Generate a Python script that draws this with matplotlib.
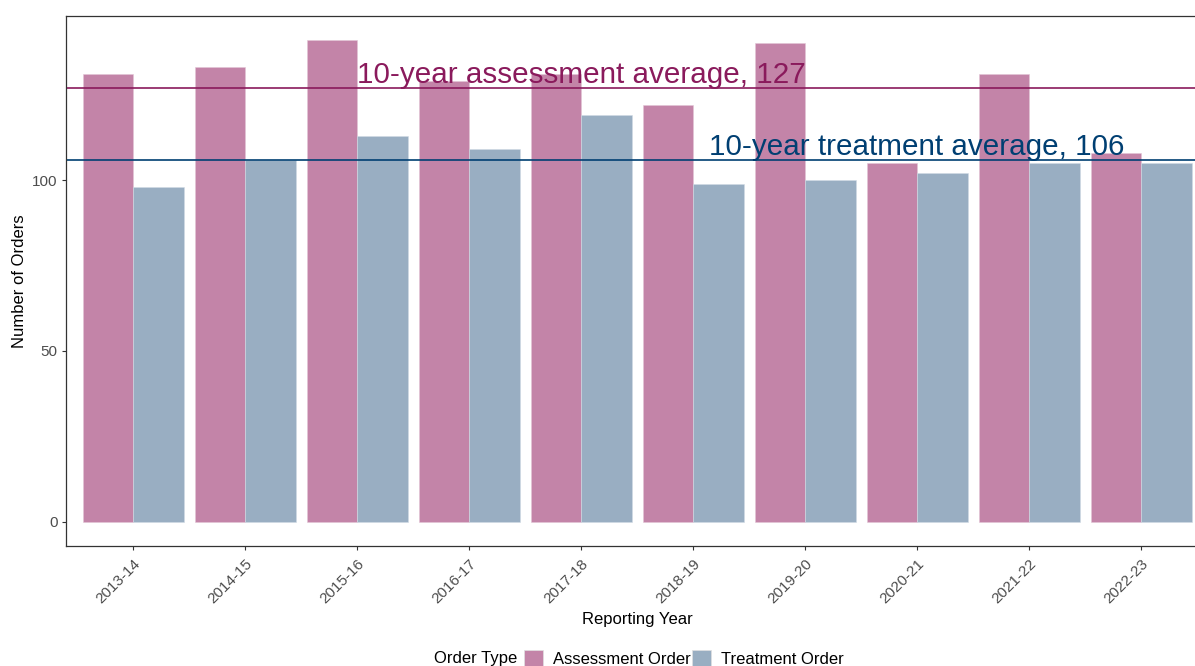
import numpy as np
import matplotlib.pyplot as plt
from matplotlib.patches import Patch

plt.rcParams['font.family'] = ['Liberation Sans', 'DejaVu Sans']

# Orders per reporting year
years = ['2013-14', '2014-15', '2015-16', '2016-17', '2017-18',
         '2018-19', '2019-20', '2020-21', '2021-22', '2022-23']
assessment = [131, 133, 141, 129, 131, 122, 140, 105, 131, 108]
treatment = [98, 106, 113, 109, 119, 99, 100, 102, 105, 105]

series_names = ['Assessment Order', 'Treatment Order']
bar_colors = ['#C384A8', '#99AEC2']
line_colors = ['#8A1A5C', '#003F72']

# 10-year averages, rounded as shown in the labels
avg_assess = round(np.mean(assessment))
avg_treat = round(np.mean(treatment))

fig = plt.figure(figsize=(11.95, 6.66), dpi=100)
ax = fig.add_axes([0.0552, 0.1802, 0.956, 0.796])

x = np.arange(1, len(years) + 1)
w = 0.45
ax.bar(x - w / 2, assessment, width=w, color=bar_colors[0],
       edgecolor='#E3C6D6', linewidth=0.4)
ax.bar(x + w / 2, treatment, width=w, color=bar_colors[1],
       edgecolor='#D2DBE4', linewidth=0.4)

ax.axhline(avg_assess, color=line_colors[0], lw=1.2)
ax.axhline(avg_treat, color=line_colors[1], lw=1.2)

ax.text(5, avg_assess + 1.3, f'10-year assessment average, {avg_assess}',
        color=line_colors[0], fontsize=21.3, ha='center', va='baseline')
ax.text(8, avg_treat + 1.3, f'10-year treatment average, {avg_treat}',
        color=line_colors[1], fontsize=21.3, ha='center', va='baseline')

ymax = max(max(assessment), max(treatment))
ax.set_xlim(0.4, len(years) + 0.6)
ax.set_ylim(-0.05 * ymax, 1.05 * ymax)

ax.set_xticks(x)
ax.set_xticklabels(years, rotation=45, ha='right', va='top',
                   rotation_mode='anchor')
ax.set_yticks([0, 50, 100])
ax.tick_params(axis='both', labelsize=11, labelcolor='#4D4D4D',
               length=3, width=0.8, color='#333333', pad=3)
ax.tick_params(axis='x', pad=5)

for s in ax.spines.values():
    s.set_color('#333333')
    s.set_linewidth(0.9)

ax.set_xlabel('Reporting Year', fontsize=12, labelpad=4)
ax.set_ylabel('Number of Orders', fontsize=12, labelpad=4)

# legend along the bottom edge
handles = [Patch(facecolor=c, edgecolor='#E0E0E0', linewidth=0.5)
           for c in bar_colors]
fig.legend(handles, series_names, loc='center left', ncol=2,
           bbox_to_anchor=(0.4385, 0.011), frameon=False, fontsize=12,
           handlelength=1.14, handleheight=1.14, handletextpad=0.6,
           columnspacing=0.05, borderpad=0, borderaxespad=0)
fig.text(0.3632, 0.011, 'Order Type', fontsize=12, ha='left', va='center')

fig.savefig('out.png', dpi=100)
